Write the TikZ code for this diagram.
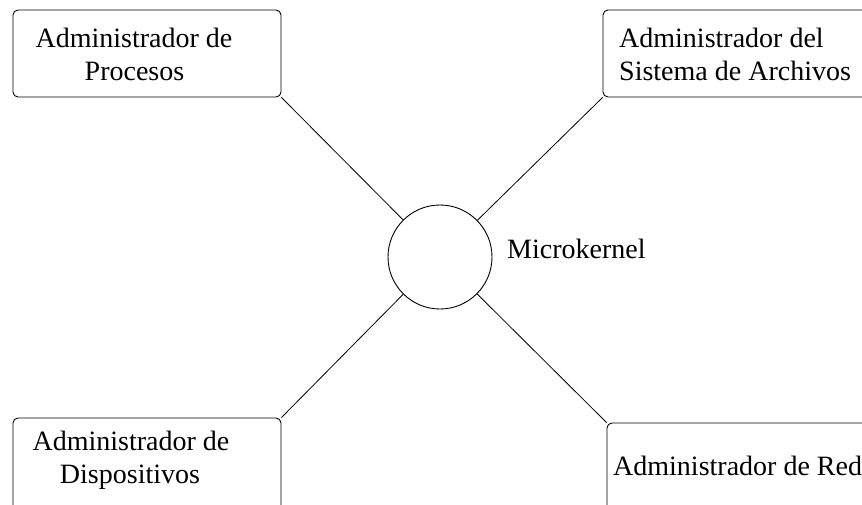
\documentclass[tikz,border=0pt]{standalone}
\usepackage{fontspec}
\setmainfont{Liberation Serif}
\begin{document}
\begin{tikzpicture}[x=1pt,y=-1pt,
  box/.style={draw,rounded corners=5pt,inner sep=0pt,line width=0.9pt},
  lbl/.style={inner sep=0pt,font=\fontsize{28}{33}\selectfont},
  link/.style={line width=0.8pt}]
\useasboundingbox (0,0) rectangle (862,504);
\clip (0,0) rectangle (862,504);
% module boxes
\node[box,minimum width=268pt,minimum height=87pt] (tl) at (147,53.5) {};
\node[box,minimum width=297pt,minimum height=87pt] (tr) at (751.5,53.5) {};
\node[box,minimum width=268pt,minimum height=122pt] (bl) at (147,479) {};
\node[box,minimum width=293pt,minimum height=117pt] (br) at (753.5,481.5) {};
% microkernel
\node[draw,circle,minimum size=104pt,inner sep=0pt,line width=0.9pt] (mk) at (440,257) {};
\node[lbl,anchor=base west] (mklbl) at (507,258) {Microkernel};
% labels
\node[lbl,anchor=base] (tla) at (134,47) {Administrador de};
\node[lbl,anchor=base] (tlb) at (134.5,80) {Procesos};
\node[lbl,anchor=base west] (tra) at (619,47) {Administrador del};
\node[lbl,anchor=base west] (trb) at (619,80) {Sistema de Archivos};
\node[lbl,anchor=base] (bla) at (131,450) {Administrador de};
\node[lbl,anchor=base] (blb) at (130,483) {Dispositivos};
\node[lbl,anchor=base west] (bra) at (613,475) {Administrador de Red};
% connectors
\draw[link] (tl.south east) -- (mk);
\draw[link] (tr.south west) -- (mk);
\draw[link] (bl.north east) -- (mk);
\draw[link] (br.north west) -- (mk);
\end{tikzpicture}
\end{document}
